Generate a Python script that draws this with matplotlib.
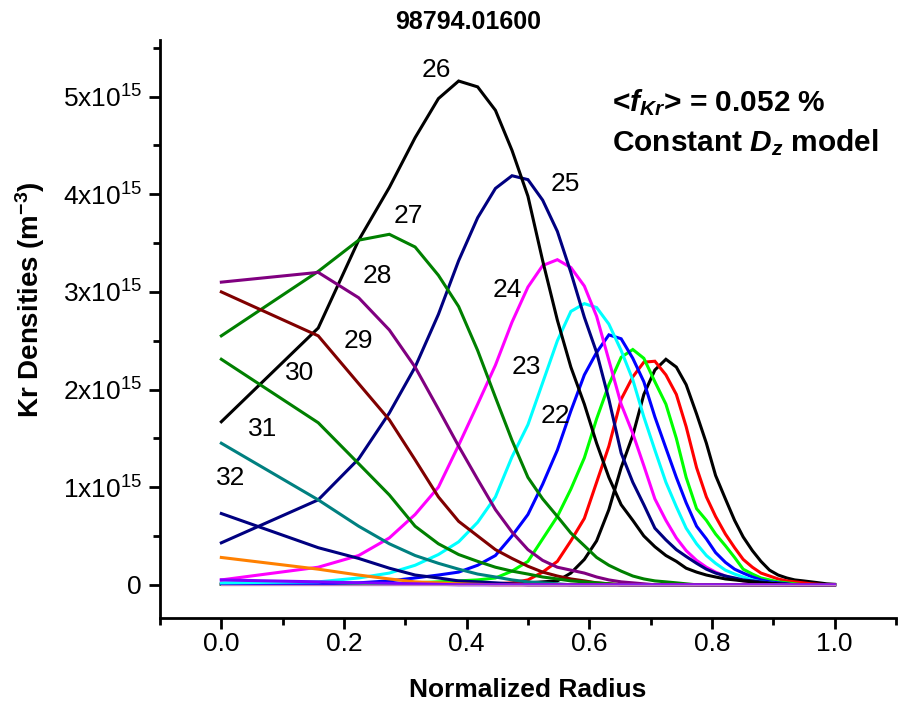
import matplotlib.pyplot as plt
from matplotlib.ticker import MultipleLocator, FixedLocator, FixedFormatter

plt.rcParams['font.family'] = ['Liberation Sans', 'DejaVu Sans']
plt.rcParams['mathtext.fontset'] = 'custom'
plt.rcParams['mathtext.it'] = 'Liberation Sans:italic:bold'
plt.rcParams['mathtext.rm'] = 'Liberation Sans'
plt.rcParams['mathtext.default'] = 'regular'

# normalized radius grid (41 points)
radius = [0.000, 0.158, 0.224, 0.274, 0.316, 0.354, 0.387, 0.418, 0.447, 0.474,
          0.500, 0.524, 0.548, 0.570, 0.592, 0.612, 0.632, 0.652, 0.671, 0.689,
          0.707, 0.725, 0.742, 0.758, 0.775, 0.791, 0.806, 0.822, 0.837, 0.851,
          0.866, 0.880, 0.894, 0.908, 0.922, 0.935, 0.949, 0.962, 0.975, 0.987, 1.000]

# Kr densities per charge state, units of 1e15 m^-3
kr19 = [0.005, 0.005, 0.005, 0.005, 0.005, 0.005, 0.01, 0.01, 0.01, 0.01,
        0.02, 0.03, 0.04, 0.12, 0.26, 0.45, 0.77, 1.20, 1.53, 1.95,
        2.20, 2.31, 2.23, 2.05, 1.75, 1.45, 1.12, 0.88, 0.66, 0.49,
        0.35, 0.24, 0.15, 0.10, 0.07, 0.05, 0.04, 0.03, 0.02, 0.01, 0.005]
kr20 = [0.005, 0.005, 0.005, 0.005, 0.005, 0.005, 0.005, 0.01, 0.01, 0.02,
        0.05, 0.13, 0.24, 0.45, 0.68, 1.05, 1.42, 1.90, 2.13, 2.28,
        2.29, 2.15, 1.95, 1.62, 1.20, 0.90, 0.70, 0.52, 0.38, 0.26,
        0.18, 0.12, 0.09, 0.06, 0.04, 0.03, 0.02, 0.01, 0.005, 0.0, 0.0]
kr21 = [0.005, 0.005, 0.01, 0.01, 0.02, 0.03, 0.04, 0.05, 0.07, 0.14,
        0.24, 0.47, 0.70, 0.98, 1.30, 1.70, 2.05, 2.33, 2.41, 2.32,
        2.08, 1.85, 1.50, 1.10, 0.78, 0.66, 0.52, 0.40, 0.28, 0.16,
        0.11, 0.07, 0.05, 0.03, 0.02, 0.01, 0.0, 0.0, 0.0, 0.0, 0.0]
kr22 = [0.01, 0.01, 0.02, 0.04, 0.07, 0.10, 0.13, 0.20, 0.30, 0.50,
        0.72, 1.03, 1.38, 1.78, 2.15, 2.38, 2.56, 2.52, 2.32, 2.08,
        1.72, 1.40, 1.10, 0.84, 0.60, 0.47, 0.33, 0.23, 0.16, 0.12,
        0.08, 0.05, 0.03, 0.02, 0.01, 0.0, 0.0, 0.0, 0.0, 0.0, 0.0]
kr23 = [0.02, 0.03, 0.07, 0.12, 0.20, 0.31, 0.44, 0.64, 0.90, 1.31,
        1.64, 2.07, 2.50, 2.80, 2.88, 2.84, 2.67, 2.40, 2.10, 1.72,
        1.38, 1.05, 0.80, 0.58, 0.42, 0.30, 0.22, 0.15, 0.11, 0.08,
        0.05, 0.03, 0.02, 0.01, 0.0, 0.0, 0.0, 0.0, 0.0, 0.0, 0.0]
kr24 = [0.05, 0.18, 0.30, 0.48, 0.72, 1.00, 1.43, 1.85, 2.25, 2.69,
        3.05, 3.27, 3.33, 3.25, 3.06, 2.75, 2.30, 1.85, 1.55, 1.22,
        0.88, 0.66, 0.48, 0.35, 0.25, 0.18, 0.13, 0.09, 0.06, 0.04,
        0.03, 0.02, 0.01, 0.0, 0.0, 0.0, 0.0, 0.0, 0.0, 0.0, 0.0]
kr25 = [0.43, 0.87, 1.29, 1.76, 2.23, 2.77, 3.32, 3.76, 4.06, 4.19,
        4.15, 3.94, 3.62, 3.20, 2.74, 2.38, 1.90, 1.35, 1.05, 0.82,
        0.58, 0.46, 0.36, 0.29, 0.22, 0.16, 0.12, 0.09, 0.07, 0.05,
        0.04, 0.03, 0.02, 0.01, 0.0, 0.0, 0.0, 0.0, 0.0, 0.0, 0.0]
kr26 = [1.67, 2.63, 3.53, 4.07, 4.58, 4.98, 5.16, 5.10, 4.86, 4.45,
        3.98, 3.32, 2.71, 2.23, 1.85, 1.45, 1.10, 0.82, 0.66, 0.50,
        0.39, 0.30, 0.24, 0.17, 0.13, 0.10, 0.08, 0.06, 0.05, 0.04,
        0.03, 0.02, 0.015, 0.01, 0.005, 0.0, 0.0, 0.0, 0.0, 0.0, 0.0]
kr27 = [2.55, 3.21, 3.53, 3.59, 3.46, 3.17, 2.85, 2.40, 1.92, 1.48,
        1.10, 0.88, 0.70, 0.53, 0.40, 0.28, 0.20, 0.14, 0.09, 0.06,
        0.04, 0.03, 0.02, 0.01, 0.0, 0.0, 0.0, 0.0, 0.0, 0.0,
        0.0, 0.0, 0.0, 0.0, 0.0, 0.0, 0.0, 0.0, 0.0, 0.0, 0.0]
kr28 = [3.10, 3.20, 2.94, 2.61, 2.23, 1.80, 1.42, 1.08, 0.77, 0.54,
        0.36, 0.25, 0.18, 0.15, 0.12, 0.08, 0.05, 0.03, 0.02, 0.01,
        0.0, 0.0, 0.0, 0.0, 0.0, 0.0, 0.0, 0.0, 0.0, 0.0,
        0.0, 0.0, 0.0, 0.0, 0.0, 0.0, 0.0, 0.0, 0.0, 0.0, 0.0]
kr29 = [3.00, 2.55, 2.06, 1.69, 1.28, 0.90, 0.65, 0.50, 0.36, 0.27,
        0.19, 0.13, 0.09, 0.06, 0.04, 0.02, 0.01, 0.0, 0.0, 0.0,
        0.0, 0.0, 0.0, 0.0, 0.0, 0.0, 0.0, 0.0, 0.0, 0.0,
        0.0, 0.0, 0.0, 0.0, 0.0, 0.0, 0.0, 0.0, 0.0, 0.0, 0.0]
kr30 = [2.31, 1.66, 1.24, 0.92, 0.60, 0.42, 0.31, 0.24, 0.18, 0.14,
        0.11, 0.08, 0.06, 0.04, 0.03, 0.02, 0.01, 0.0, 0.0, 0.0,
        0.0, 0.0, 0.0, 0.0, 0.0, 0.0, 0.0, 0.0, 0.0, 0.0,
        0.0, 0.0, 0.0, 0.0, 0.0, 0.0, 0.0, 0.0, 0.0, 0.0, 0.0]
kr31 = [1.45, 0.87, 0.60, 0.42, 0.30, 0.22, 0.16, 0.11, 0.08, 0.05,
        0.03, 0.02, 0.01, 0.0, 0.0, 0.0, 0.0, 0.0, 0.0, 0.0,
        0.0, 0.0, 0.0, 0.0, 0.0, 0.0, 0.0, 0.0, 0.0, 0.0,
        0.0, 0.0, 0.0, 0.0, 0.0, 0.0, 0.0, 0.0, 0.0, 0.0, 0.0]
kr32 = [0.73, 0.38, 0.27, 0.17, 0.10, 0.07, 0.04, 0.03, 0.02, 0.01,
        0.0, 0.0, 0.0, 0.0, 0.0, 0.0, 0.0, 0.0, 0.0, 0.0,
        0.0, 0.0, 0.0, 0.0, 0.0, 0.0, 0.0, 0.0, 0.0, 0.0,
        0.0, 0.0, 0.0, 0.0, 0.0, 0.0, 0.0, 0.0, 0.0, 0.0, 0.0]
kr33 = [0.28, 0.16, 0.10, 0.06, 0.03, 0.02, 0.01, 0.005, 0.0, 0.0,
        0.0, 0.0, 0.0, 0.0, 0.0, 0.0, 0.0, 0.0, 0.0, 0.0,
        0.0, 0.0, 0.0, 0.0, 0.0, 0.0, 0.0, 0.0, 0.0, 0.0,
        0.0, 0.0, 0.0, 0.0, 0.0, 0.0, 0.0, 0.0, 0.0, 0.0, 0.0]
kr34 = [0.05, 0.03, 0.02, 0.015, 0.01, 0.005, 0.0, 0.0, 0.0, 0.0,
        0.0, 0.0, 0.0, 0.0, 0.0, 0.0, 0.0, 0.0, 0.0, 0.0,
        0.0, 0.0, 0.0, 0.0, 0.0, 0.0, 0.0, 0.0, 0.0, 0.0,
        0.0, 0.0, 0.0, 0.0, 0.0, 0.0, 0.0, 0.0, 0.0, 0.0, 0.0]
kr35 = [0.0, 0.0, 0.0, 0.0, 0.0, 0.0, 0.0, 0.0, 0.0, 0.0,
        0.0, 0.0, 0.0, 0.0, 0.0, 0.0, 0.0, 0.0, 0.0, 0.0,
        0.0, 0.0, 0.0, 0.0, 0.0, 0.0, 0.0, 0.0, 0.0, 0.0,
        0.0, 0.0, 0.0, 0.0, 0.0, 0.0, 0.0, 0.0, 0.0, 0.0, 0.0]

series = [kr19, kr20, kr21, kr22, kr23, kr24, kr25, kr26, kr27,
          kr28, kr29, kr30, kr31, kr32, kr33, kr34, kr35]
colors = ['#000000', '#ff0000', '#00ff00', '#0000ff', '#00ffff', '#ff00ff',
          '#000080', '#000000', '#008000', '#800080', '#800000', '#008000',
          '#008080', '#000080', '#ff8000', '#8000ff', '#c080c0']

ytick_vals = [0, 1, 2, 3, 4, 5]
ytick_labels = ['0', '1x10$^{15}$', '2x10$^{15}$', '3x10$^{15}$',
                '4x10$^{15}$', '5x10$^{15}$']

# curve labels (charge state, x, y)
curve_labels = [('26', 0.351, 5.27), ('25', 0.561, 4.11), ('27', 0.305, 3.78),
                ('28', 0.254, 3.16), ('24', 0.466, 3.02), ('29', 0.224, 2.50),
                ('23', 0.498, 2.23), ('30', 0.128, 2.17), ('22', 0.544, 1.73),
                ('31', 0.067, 1.60), ('32', 0.016, 1.09)]

fig = plt.figure(figsize=(9.04, 7.07), dpi=100)
ax = fig.add_axes([0.177, 0.1259, 0.814, 0.8175])

for vals, c in zip(series, colors):
    lw = 1.0 if c == '#c080c0' else 2.2
    ax.plot(radius, vals, color=c, lw=lw, solid_joinstyle='miter')

for txt, x, y in curve_labels:
    ax.text(x, y, txt, fontsize=19, ha='center', va='center')

ax.set_xlim(-0.1, 1.1)
ax.set_ylim(-0.34, 5.58)
ax.spines['top'].set_visible(False)
ax.spines['right'].set_visible(False)
ax.spines['left'].set_linewidth(2)
ax.spines['bottom'].set_linewidth(2)

ax.xaxis.set_major_locator(FixedLocator([0.0, 0.2, 0.4, 0.6, 0.8, 1.0]))
ax.xaxis.set_minor_locator(MultipleLocator(0.1))
ax.set_xticklabels(['0.0', '0.2', '0.4', '0.6', '0.8', '1.0'])
ax.yaxis.set_major_locator(FixedLocator(ytick_vals))
ax.yaxis.set_major_formatter(FixedFormatter(ytick_labels))
ax.yaxis.set_minor_locator(MultipleLocator(0.5))
ax.tick_params(which='major', direction='out', length=8, width=2, labelsize=19)
ax.tick_params(axis='x', which='major', pad=2)
ax.tick_params(axis='y', which='major', pad=5)
ax.tick_params(which='minor', direction='out', length=5, width=2)

ax.set_xlabel('Normalized Radius', fontsize=19, fontweight='bold')
ax.xaxis.set_label_coords(0.5, (618 - 690) / 578, transform=ax.transAxes)
ax.xaxis.label.set_va('center')
ax.set_ylabel('Kr Densities (m$^{-3}$)', fontsize=20, fontweight='bold')
ax.yaxis.set_label_coords((30 - 160) / 736, (618 - 300) / 578)
ax.yaxis.label.set_va('center')

fig.text(468 / 904, 1 - 22 / 707, '98794.01600', fontsize=18, fontweight='bold',
         ha='center', va='center')
fig.text(612 / 904, 1 - 103 / 707, r'<$\mathit{f}_{\mathit{Kr}}$> = 0.052 %',
         fontsize=21.5, fontweight='bold', ha='left', va='center')
fig.text(612 / 904, 1 - 143 / 707, r'Constant $\mathit{D}_{\mathit{z}}$ model',
         fontsize=21.5, fontweight='bold', ha='left', va='center')

fig.savefig('out.png', dpi=100)
